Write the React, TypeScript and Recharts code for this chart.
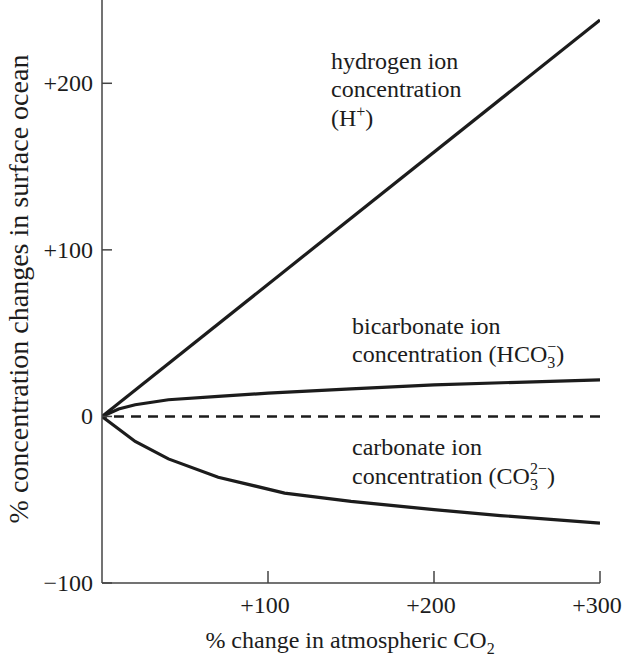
import React from 'react';
import {
  LineChart,
  Line,
  XAxis,
  YAxis,
  ReferenceLine,
  Customized
} from 'recharts';

// ============================================================================
// DATA
// ============================================================================

const co2Ticks = [100, 200, 300];
const concentrationTicks = [-100, 0, 100, 200];

const hydrogenX = [0, 300];
const hydrogenY = [0, 238];

const bicarbonateX = [0, 10, 20, 40, 70, 100, 150, 200, 250, 300];
const bicarbonateY = [0, 4.5, 7, 10, 12, 14, 16.5, 19, 20.5, 22];

const carbonateX = [0, 20, 40, 70, 110, 150, 200, 240, 300];
const carbonateY = [0, -15, -25.5, -36.5, -46, -51, -56, -59.5, -64];

const toPoints = (xs: number[], ys: number[]) => xs.map((x, i) => ({ x, y: ys[i] }));

const hydrogenData = toPoints(hydrogenX, hydrogenY);
const bicarbonateData = toPoints(bicarbonateX, bicarbonateY);
const carbonateData = toPoints(carbonateX, carbonateY);

// ============================================================================
// STYLE
// ============================================================================

const FONT = '"Liberation Serif", "DejaVu Serif", serif';
const FONT_SIZE = 24;
const INK = '#1c1c1c';
const AXIS = '#444';

const fmt = (v: number) => (v > 0 ? `+${v}` : v < 0 ? `\u2212${Math.abs(v)}` : '0');

// y ticks: label outside, tick mark pointing into the plot
const YTick = ({ x, y, payload }: any) => (
  <g>
    <line x1={x + 9} x2={x + 19} y1={y} y2={y} stroke={AXIS} strokeWidth={1.5} />
    <text x={x} y={y} textAnchor="end" dominantBaseline="central"
      fontFamily={FONT} fontSize={FONT_SIZE} fill={INK}>
      {fmt(payload.value)}
    </text>
  </g>
);

const XTick = ({ x, y, payload }: any) => (
  <g>
    <line x1={x} x2={x} y1={y} y2={y - 12} stroke={AXIS} strokeWidth={1.5} />
    <text x={x - 3} y={y + 22} textAnchor="middle" dominantBaseline="central"
      fontFamily={FONT} fontSize={FONT_SIZE} fill={INK}>
      {fmt(payload.value)}
    </text>
  </g>
);

// free text annotations
const Annotations = () => (
  <g fontFamily={FONT} fontSize={FONT_SIZE} fill={INK}>
    <text x={331} y={69}>hydrogen ion</text>
    <text x={331} y={97}>concentration</text>
    <text x={331} y={126}>
      (H<tspan fontSize={16} dy={-9}>+</tspan><tspan dy={9}>)</tspan>
    </text>

    <text x={352} y={334}>bicarbonate ion</text>
    <text x={352} y={362}>
      concentration (HCO<tspan fontSize={16} dy={6}>3</tspan>
      <tspan fontSize={16} dx={-8} dy={-16}>{'\u2212'}</tspan>
      <tspan dy={10}>)</tspan>
    </text>

    <text x={352} y={455}>carbonate ion</text>
    <text x={352} y={484}>
      concentration (CO<tspan fontSize={16} dy={6}>3</tspan>
      <tspan fontSize={16} dx={-8} dy={-16}>{'2\u2212'}</tspan>
      <tspan dy={10}>)</tspan>
    </text>

    <text x={350} y={648} textAnchor="middle">
      % change in atmospheric CO<tspan fontSize={16} dy={6}>2</tspan>
    </text>

    <text x={0} y={0} textAnchor="middle" fontSize={28}
      transform="translate(28 289) rotate(-90)">
      % concentration changes in surface ocean
    </text>
  </g>
);

export default function App() {
  return (
    <div style={{ position: 'absolute', left: 0, top: 0, background: '#fff' }}>
      <LineChart
        width={623}
        height={663}
        margin={{ top: 0, right: 23, left: 0, bottom: 0 }}
      >
        <XAxis
          type="number"
          dataKey="x"
          domain={[0, 300]}
          ticks={co2Ticks}
          allowDataOverflow
          height={80}
          tickLine={false}
          tickSize={0}
          tickMargin={0}
          tick={<XTick />}
          stroke={AXIS}
          strokeWidth={1.5}
        />
        <YAxis
          type="number"
          dataKey="y"
          domain={[-100, 250]}
          ticks={concentrationTicks}
          allowDataOverflow
          width={102}
          tickLine={false}
          tickSize={0}
          tickMargin={9}
          tick={<YTick />}
          stroke={AXIS}
          strokeWidth={1.5}
        />
        <ReferenceLine
          y={0}
          stroke={INK}
          strokeWidth={2.5}
          strokeDasharray="10 7"
          strokeDashoffset={-12}
        />
        <Line data={hydrogenData} dataKey="y" type="linear" stroke={INK}
          strokeWidth={3.2} dot={false} isAnimationActive={false} />
        <Line data={bicarbonateData} dataKey="y" type="linear" stroke={INK}
          strokeWidth={3.2} dot={false} isAnimationActive={false} />
        <Line data={carbonateData} dataKey="y" type="linear" stroke={INK}
          strokeWidth={3.2} dot={false} isAnimationActive={false} />
        <Customized component={<Annotations />} />
      </LineChart>
    </div>
  );
}
